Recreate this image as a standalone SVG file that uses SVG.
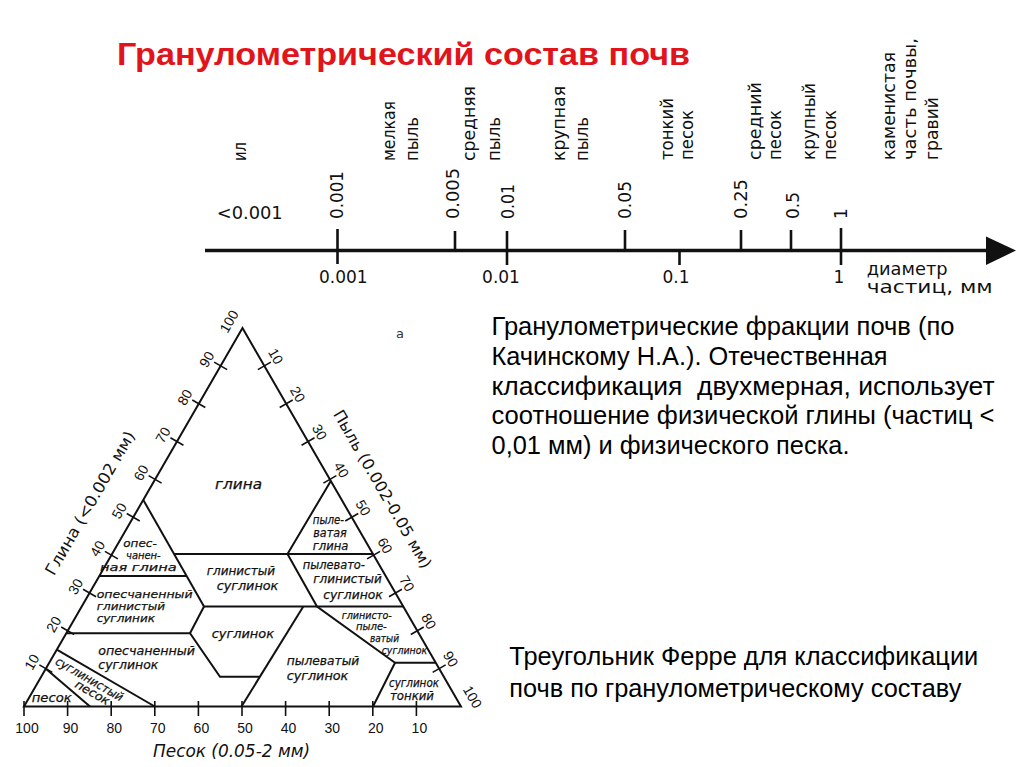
<svg xmlns="http://www.w3.org/2000/svg" width="1024" height="767" viewBox="0 0 1024 767">
<style>
.ln{stroke:#111;stroke-width:2;fill:none;stroke-linejoin:miter}
.tk{stroke:#111;stroke-width:1.6;fill:none}
.atk{stroke:#111;stroke-width:2.6;fill:none}
.num{font-family:"Liberation Sans",Arial,sans-serif;font-size:14px;fill:#111;text-anchor:middle}
.reg{font-family:"DejaVu Sans",Verdana,sans-serif;font-style:italic;font-size:12px;fill:#111;stroke:#111;stroke-width:0.25}
.sm{font-size:10.5px}
.tight{font-size:11.2px}
.axt{font-family:"DejaVu Sans",Verdana,sans-serif;font-size:16px;fill:#111;text-anchor:middle}
.ax{font-family:"DejaVu Sans",Verdana,sans-serif;font-size:17px;fill:#111}
.mid{text-anchor:middle}
.body{font-family:"Liberation Sans",Arial,sans-serif;font-size:25px;fill:#000}
.title{font-family:"Liberation Sans",Arial,sans-serif;font-weight:bold;font-size:31px;fill:#E2141B}
</style>
<rect width="1024" height="767" fill="#fff"/>

<g id="title">
<text class="title" x="117" y="65" textLength="573" lengthAdjust="spacingAndGlyphs">Гранулометрический состав почв</text>
</g>

<g id="scale">
<g id="scale-axis">
<line class="atk" x1="205" y1="250.5" x2="990" y2="250.5" style="stroke-width:3.5"/>
<polygon points="986,236.5 1016,250.5 986,265" fill="#111"/>
<path class="atk" d="M337.5 229V264M455 231V250.5M507 231V265M625 230V250.5M679.5 250.5V265M741 230V250.5M791 230V250.5M841 228V265"/>
</g>
<g id="scale-values-top" class="ax">
<text x="216.7" y="219" textLength="66" lengthAdjust="spacingAndGlyphs">&lt;0.001</text>
<text transform="translate(343,219) rotate(-90)" textLength="48" lengthAdjust="spacingAndGlyphs">0.001</text>
<text transform="translate(459.2,219) rotate(-90)" textLength="51" lengthAdjust="spacingAndGlyphs">0.005</text>
<text transform="translate(514.2,219) rotate(-90)" textLength="35" lengthAdjust="spacingAndGlyphs">0.01</text>
<text transform="translate(631.2,219) rotate(-90)" textLength="38" lengthAdjust="spacingAndGlyphs">0.05</text>
<text transform="translate(747,219) rotate(-90)" textLength="40" lengthAdjust="spacingAndGlyphs">0.25</text>
<text transform="translate(799,219) rotate(-90)" textLength="27" lengthAdjust="spacingAndGlyphs">0.5</text>
<text transform="translate(847,219) rotate(-90)">1</text>
</g>
<g id="scale-values-bottom" class="ax mid">
<text x="343.3" y="283">0.001</text>
<text x="501" y="283">0.01</text>
<text x="676" y="283">0.1</text>
<text x="839" y="283">1</text>
</g>
<g id="scale-unit" class="ax">
<text x="866.7" y="275" textLength="81" lengthAdjust="spacingAndGlyphs">диаметр</text>
<text x="866.7" y="293" textLength="126" lengthAdjust="spacingAndGlyphs">частиц, мм</text>
</g>
<g id="scale-fractions" class="ax">
<text transform="translate(246.4,161) rotate(-90)" textLength="19" lengthAdjust="spacingAndGlyphs">ил</text>
<text transform="translate(394.7,161) rotate(-90)" textLength="60" lengthAdjust="spacingAndGlyphs">мелкая</text>
<text transform="translate(417.7,161) rotate(-90)" textLength="44" lengthAdjust="spacingAndGlyphs">пыль</text>
<text transform="translate(475.4,161) rotate(-90)" textLength="75" lengthAdjust="spacingAndGlyphs">средняя</text>
<text transform="translate(499.7,161) rotate(-90)" textLength="44" lengthAdjust="spacingAndGlyphs">пыль</text>
<text transform="translate(564.7,161) rotate(-90)" textLength="75" lengthAdjust="spacingAndGlyphs">крупная</text>
<text transform="translate(587.7,161) rotate(-90)" textLength="44" lengthAdjust="spacingAndGlyphs">пыль</text>
<text transform="translate(672.7,160) rotate(-90)" textLength="62" lengthAdjust="spacingAndGlyphs">тонкий</text>
<text transform="translate(692.7,160) rotate(-90)" textLength="50" lengthAdjust="spacingAndGlyphs">песок</text>
<text transform="translate(761.4,160) rotate(-90)" textLength="78" lengthAdjust="spacingAndGlyphs">средний</text>
<text transform="translate(781.4,160) rotate(-90)" textLength="50" lengthAdjust="spacingAndGlyphs">песок</text>
<text transform="translate(814.7,160) rotate(-90)" textLength="77" lengthAdjust="spacingAndGlyphs">крупный</text>
<text transform="translate(836.4,160) rotate(-90)" textLength="50" lengthAdjust="spacingAndGlyphs">песок</text>
<text transform="translate(894.7,160) rotate(-90)" textLength="108" lengthAdjust="spacingAndGlyphs">каменистая</text>
<text transform="translate(916.4,160) rotate(-90)" textLength="122" lengthAdjust="spacingAndGlyphs">часть почвы,</text>
<text transform="translate(938,160) rotate(-90)" textLength="63" lengthAdjust="spacingAndGlyphs">гравий</text>
</g>
</g>

<g id="triangle">
<g id="triangle-frame">
<path class="ln" d="M24 706.5L242.5 328L461 706.5Z"/>
<path class="tk" d="M39.35 664.9l13 7.5M61.2 627.05l13 7.5M83.05 589.2l13 7.5M104.9 551.35l13 7.5M126.75 513.5l13 7.5M148.6 475.65l13 7.5M170.45 437.8l13 7.5M192.3 399.95l13 7.5M214.15 362.1l13 7.5"/>
<path class="tk" d="M257.85 369.6l13 -7.5M279.7 407.45l13 -7.5M301.55 445.3l13 -7.5M323.4 483.15l13 -7.5M345.25 521l13 -7.5M367.1 558.85l13 -7.5M388.95 596.7l13 -7.5M410.8 634.55l13 -7.5M432.65 672.4l13 -7.5"/>
<path class="tk" d="M24 701V716M67.6 701V716M111.2 701V716M154.8 701V716M198.4 701V716M242 701V716M285.6 701V716M329.2 701V716M372.8 701V716M416.4 701V716"/>
</g>
<g id="clay-scale" class="num">
<text transform="translate(31.85,662.15) rotate(-60)" dy="0.35em">10</text>
<text transform="translate(53.7,624.3) rotate(-60)" dy="0.35em">20</text>
<text transform="translate(75.55,586.45) rotate(-60)" dy="0.35em">30</text>
<text transform="translate(97.4,548.6) rotate(-60)" dy="0.35em">40</text>
<text transform="translate(119.25,510.75) rotate(-60)" dy="0.35em">50</text>
<text transform="translate(141.1,472.9) rotate(-60)" dy="0.35em">60</text>
<text transform="translate(162.95,435.05) rotate(-60)" dy="0.35em">70</text>
<text transform="translate(184.8,397.2) rotate(-60)" dy="0.35em">80</text>
<text transform="translate(206.65,359.35) rotate(-60)" dy="0.35em">90</text>
<text transform="translate(229,321.5) rotate(-60)" dy="0.35em">100</text>
</g>
<g id="silt-scale" class="num">
<text transform="translate(275.85,356.35) rotate(60)" dy="0.35em">10</text>
<text transform="translate(297.7,394.2) rotate(60)" dy="0.35em">20</text>
<text transform="translate(319.55,432.05) rotate(60)" dy="0.35em">30</text>
<text transform="translate(341.4,469.9) rotate(60)" dy="0.35em">40</text>
<text transform="translate(363.25,507.75) rotate(60)" dy="0.35em">50</text>
<text transform="translate(385.1,545.6) rotate(60)" dy="0.35em">60</text>
<text transform="translate(406.95,583.45) rotate(60)" dy="0.35em">70</text>
<text transform="translate(428.8,621.3) rotate(60)" dy="0.35em">80</text>
<text transform="translate(450.65,659.15) rotate(60)" dy="0.35em">90</text>
<text transform="translate(472.5,697) rotate(60)" dy="0.35em">100</text>
</g>
<g id="sand-scale" class="num">
<text x="27" y="733">100</text>
<text x="70.6" y="733">90</text>
<text x="114.2" y="733">80</text>
<text x="157.8" y="733">70</text>
<text x="201.4" y="733">60</text>
<text x="245" y="733">50</text>
<text x="288.6" y="733">40</text>
<text x="332.2" y="733">30</text>
<text x="375.8" y="733">20</text>
<text x="419.4" y="733">10</text>
</g>
<g id="axis-titles">
<text class="axt" transform="translate(90,503) rotate(-60)" dy="0.35em" textLength="163" lengthAdjust="spacingAndGlyphs">Глина (&lt;0.002 мм)</text>
<text class="axt" transform="translate(382.5,489) rotate(60)" dy="0.35em" textLength="180" lengthAdjust="spacingAndGlyphs">Пыль (0.002-0.05 мм)</text>
<text class="axt" x="231.5" y="757" style="font-style:italic;font-size:17px" textLength="157" lengthAdjust="spacingAndGlyphs">Песок (0.05-2 мм)</text>
</g>
<text id="fig-letter" x="400" y="337.5" style="font-family:'DejaVu Sans',sans-serif;font-size:13px;fill:#333;text-anchor:middle">а</text>

<g id="connectors">
<path class="ln" d="M143.3 500L204 606.5"/>
<path class="ln" d="M174.4 554H373"/>
<path class="ln" d="M99.3 576H187"/>
<path class="ln" d="M204 606.5H403.3"/>
<path class="ln" d="M204 606.5L190 633.3"/>
<path class="ln" d="M66.3 633.3H190L220 676.7H259.3"/>
<path class="ln" d="M241.5 706.5L303.3 606.5"/>
<path class="ln" d="M330.8 481L287.5 554L317 606.5L395 662.7L373 706.5"/>
<path class="ln" d="M395 662.7H435.7"/>
<path class="ln" d="M56.8 649.7L154.8 706.5"/>
<path class="ln" d="M45.85 668.65L90 706.5"/>
</g>

<g id="region-glina" class="reg"><text x="215" y="489" style="font-size:13.5px" textLength="47" lengthAdjust="spacingAndGlyphs">глина</text></g>
<g id="region-opeschanennaya-glina" class="reg tight">
<text x="123.3" y="547" textLength="33.4" lengthAdjust="spacingAndGlyphs">опес-</text>
<text x="126" y="559" textLength="34.7" lengthAdjust="spacingAndGlyphs">чанен-</text>
<text x="100" y="571" textLength="76.7" lengthAdjust="spacingAndGlyphs">ная глина</text>
</g>
<g id="region-opeschanenny-glinisty" class="reg tight">
<text x="96.7" y="597.5" textLength="96" lengthAdjust="spacingAndGlyphs">опесчаненный</text>
<text x="96.7" y="610" textLength="68.3" lengthAdjust="spacingAndGlyphs">глинистый</text>
<text x="96.7" y="622" textLength="58.3" lengthAdjust="spacingAndGlyphs">суглиник</text>
</g>
<g id="region-opeschanenny-suglinok" class="reg">
<text x="98.3" y="655" textLength="96.7" lengthAdjust="spacingAndGlyphs">опесчаненный</text>
<text x="98.3" y="669.3" textLength="60" lengthAdjust="spacingAndGlyphs">суглинок</text>
</g>
<g id="region-suglinisty-pesok" class="reg mid">
<text transform="translate(89.5,679) rotate(30)" dy="0.35em" textLength="76" lengthAdjust="spacingAndGlyphs">суглинистый</text>
<text transform="translate(92.5,692.5) rotate(30)" dy="0.35em" textLength="38" lengthAdjust="spacingAndGlyphs">песок</text>
</g>
<g id="region-pesok" class="reg"><text x="31.7" y="702" textLength="40" lengthAdjust="spacingAndGlyphs">песок</text></g>
<g id="region-glinisty-suglinok" class="reg">
<text x="206.7" y="575" textLength="68.3" lengthAdjust="spacingAndGlyphs">глинистый</text>
<text x="216.7" y="590" textLength="61.6" lengthAdjust="spacingAndGlyphs">суглинок</text>
</g>
<g id="region-suglinok" class="reg"><text x="211.7" y="638.3" textLength="62.3" lengthAdjust="spacingAndGlyphs">суглинок</text></g>
<g id="region-pylevaty-suglinok" class="reg">
<text x="286.7" y="665" textLength="72.6" lengthAdjust="spacingAndGlyphs">пылеватый</text>
<text x="286.7" y="680" textLength="61.6" lengthAdjust="spacingAndGlyphs">суглинок</text>
</g>
<g id="region-pylevataya-glina" class="reg">
<text x="312.7" y="524" textLength="31.3" lengthAdjust="spacingAndGlyphs">пыле-</text>
<text x="313.3" y="536.7" textLength="33.4" lengthAdjust="spacingAndGlyphs">ватая</text>
<text x="312.7" y="550" textLength="35.6" lengthAdjust="spacingAndGlyphs">глина</text>
</g>
<g id="region-pylevato-glinisty" class="reg">
<text x="302.7" y="569.3" textLength="62.3" lengthAdjust="spacingAndGlyphs">пылевато-</text>
<text x="313.3" y="583.3" textLength="68.4" lengthAdjust="spacingAndGlyphs">глинистый</text>
<text x="323.3" y="599" textLength="59.4" lengthAdjust="spacingAndGlyphs">суглинок</text>
</g>
<g id="region-glinisto-pylevaty" class="reg sm">
<text x="341.7" y="619" textLength="50" lengthAdjust="spacingAndGlyphs">глинисто-</text>
<text x="356" y="630" textLength="30.7" lengthAdjust="spacingAndGlyphs">пыле-</text>
<text x="370" y="641.7" textLength="29" lengthAdjust="spacingAndGlyphs">ватый</text>
<text x="381.7" y="653.5" textLength="45.5" lengthAdjust="spacingAndGlyphs">суглинок</text>
</g>
<g id="region-suglinok-tonky" class="reg">
<text x="389" y="687.3" textLength="50" lengthAdjust="spacingAndGlyphs">суглинок</text>
<text x="390" y="700" textLength="44" lengthAdjust="spacingAndGlyphs">тонкий</text>
</g>
</g>

<g id="description" class="body">
<text x="491.5" y="335" textLength="463" lengthAdjust="spacingAndGlyphs">Гранулометрические фракции почв (по</text>
<text x="491.5" y="365" textLength="396" lengthAdjust="spacingAndGlyphs">Качинскому Н.А.). Отечественная</text>
<text x="491.5" y="394.5" textLength="503" lengthAdjust="spacingAndGlyphs" xml:space="preserve">классификация  двухмерная, использует</text>
<text x="491.5" y="424" textLength="503" lengthAdjust="spacingAndGlyphs">соотношение физической глины (частиц &lt;</text>
<text x="491.5" y="454" textLength="358" lengthAdjust="spacingAndGlyphs">0,01 мм) и физического песка.</text>
</g>

<g id="caption" class="body">
<text x="509.3" y="665" textLength="469" lengthAdjust="spacingAndGlyphs">Треугольник Ферре для классификации</text>
<text x="509.3" y="696.5" textLength="452" lengthAdjust="spacingAndGlyphs">почв по гранулометрическому составу</text>
</g>
</svg>
